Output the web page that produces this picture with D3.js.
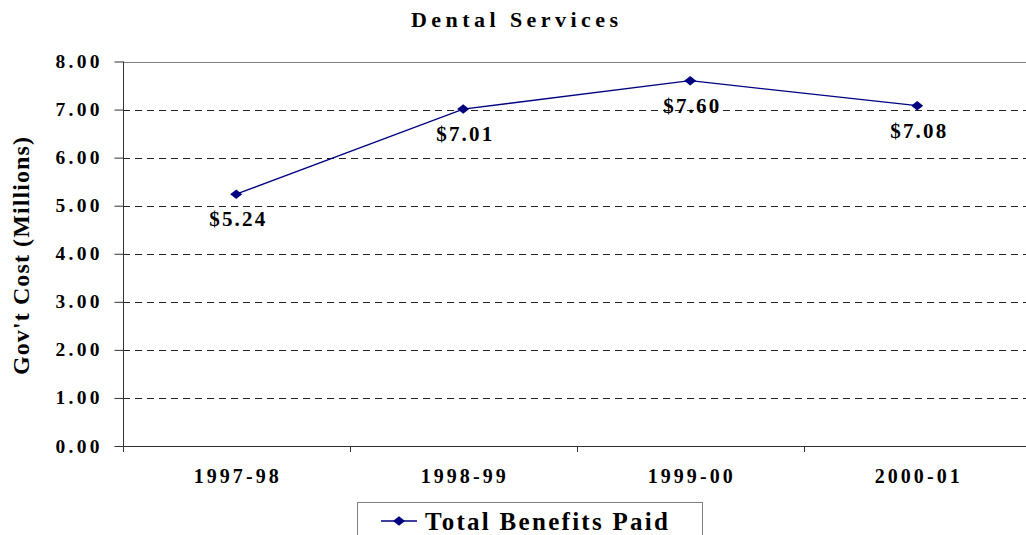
<!DOCTYPE html>
<html>
<head>
<meta charset="utf-8">
<script src="https://cdn.jsdelivr.net/npm/d3@7"></script>
<style>
  html, body { margin: 0; padding: 0; background: #fff; }
  svg { display: block; }
</style>
</head>
<body>
<svg id="chart" width="1026" height="535"></svg>
<script>
// Dental Services – government cost per fiscal year (millions of dollars)
const categories = ["1997-98", "1998-99", "1999-00", "2000-01"];
const benefitsPaid = [5.24, 7.01, 7.60, 7.08];
const yTicks = [0, 1, 2, 3, 4, 5, 6, 7, 8];
const seriesName = "Total Benefits Paid";
const chartTitle = "Dental Services";
const yTitle = "Gov't Cost (Millions)";

const serif = "'Liberation Serif', 'Times New Roman', serif";
const svg = d3.select("#chart")
  .attr("font-family", serif)
  .attr("font-weight", "bold");
const navy = "#000080";

const x = d3.scaleBand().domain(categories).range([122.7, 1030.7]).padding(0);
const y = d3.scaleLinear().domain([0, 8]).range([446, 61.5]);
const cx = d => x(d) + x.bandwidth() / 2;

// Helper: bold serif text stretched to a fixed width
function label(sel, size, width) {
  return sel.attr("font-family", serif).attr("font-weight", "bold")
    .attr("font-size", size)
    .attr("textLength", width).attr("lengthAdjust", "spacing");
}

// Title
label(svg.append("text").attr("x", 411).attr("y", 27), 22, 207)
  .text(chartTitle);

// Y axis title
label(svg.append("text")
  .attr("transform", "translate(29,256) rotate(-90)")
  .attr("text-anchor", "middle"), 24, 238)
  .text(yTitle);

// Horizontal gridlines
svg.append("g").selectAll("line")
  .data(yTicks.filter(t => t > 0 && t < 8))
  .join("line")
  .attr("x1", 123).attr("x2", 1026)
  .attr("y1", d => Math.round(y(d)) + 0.5).attr("y2", d => Math.round(y(d)) + 0.5)
  .attr("stroke", "#222").attr("stroke-width", 1)
  .attr("stroke-dasharray", "7,5");

// Top border of plot area
svg.append("line")
  .attr("x1", 123).attr("x2", 1026)
  .attr("y1", Math.round(y(8)) + 0.5).attr("y2", Math.round(y(8)) + 0.5)
  .attr("stroke", "#808080").attr("stroke-width", 1);

// Y axis
const yAxis = d3.axisLeft(y).tickValues(yTicks).tickSize(9).tickFormat("");
const gy = svg.append("g").attr("transform", "translate(123.5,0)").call(yAxis);
gy.select(".domain").attr("stroke", "#333").attr("d", `M0,${y(8)}V452`);
gy.selectAll(".tick line").attr("stroke", "#333");

// Y tick labels
label(svg.append("g").selectAll("text")
  .data(yTicks)
  .join("text")
  .attr("x", 99.5).attr("y", d => y(d) + 6.5)
  .attr("text-anchor", "end"), 19.5, 44)
  .text(d => d3.format(".2f")(d));

// X axis
const xEdges = categories.map(c => x(c)).concat([x.range()[1]]);
const gx = svg.append("g");
gx.append("line")
  .attr("x1", 123).attr("x2", 1026)
  .attr("y1", Math.round(y(0)) + 0.5).attr("y2", Math.round(y(0)) + 0.5)
  .attr("stroke", "#333");
gx.selectAll("line.tick")
  .data(xEdges.slice(1, 4))
  .join("line").attr("class", "tick")
  .attr("x1", d => Math.round(d) + 0.5).attr("x2", d => Math.round(d) + 0.5)
  .attr("y1", y(0)).attr("y2", 452)
  .attr("stroke", "#333");

// Category labels
label(svg.append("g").selectAll("text")
  .data(categories)
  .join("text")
  .attr("x", d => cx(d) - 42.5).attr("y", 483), 20, 85)
  .text(d => d);

// Series line
const line = d3.line().x((d, i) => cx(categories[i])).y(d => y(d));
svg.append("path")
  .datum(benefitsPaid)
  .attr("d", line)
  .attr("fill", "none")
  .attr("stroke", navy)
  .attr("stroke-width", 1.3);

// Diamond marker path centred at 0,0
const diamond = (w, h) => `M0,${-h / 2}L${w / 2},0L0,${h / 2}L${-w / 2},0Z`;

svg.append("g").selectAll("path")
  .data(benefitsPaid)
  .join("path")
  .attr("transform", (d, i) => `translate(${cx(categories[i])},${y(d)})`)
  .attr("d", diamond(12, 9.5))
  .attr("fill", navy);

// Value labels
label(svg.append("g").selectAll("text")
  .data(benefitsPaid)
  .join("text")
  .attr("x", (d, i) => cx(categories[i]) - 27)
  .attr("y", d => y(d) + 32), 21, 56)
  .text(d => "$" + d3.format(".2f")(d));

// Legend
const lg = svg.append("g");
lg.append("rect")
  .attr("x", 357.5).attr("y", 502.5)
  .attr("width", 345).attr("height", 60)
  .attr("fill", "#fff").attr("stroke", "#808080");
lg.append("line")
  .attr("x1", 381).attr("x2", 417).attr("y1", 521).attr("y2", 521)
  .attr("stroke", navy).attr("stroke-width", 1.3);
lg.append("path")
  .attr("transform", "translate(399,521)")
  .attr("d", diamond(12, 9.5))
  .attr("fill", navy);
label(lg.append("text").attr("x", 425).attr("y", 530), 25, 243)
  .text(seriesName);
</script>
</body>
</html>
